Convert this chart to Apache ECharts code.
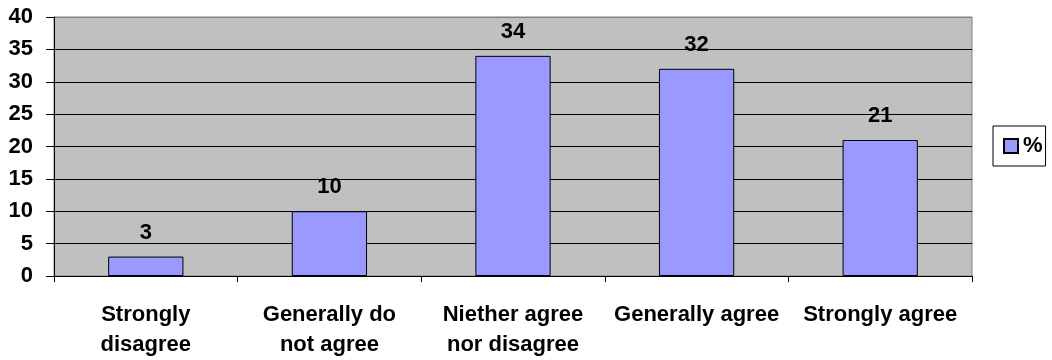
<!DOCTYPE html>
<html>
<head>
<meta charset="utf-8">
<script src="https://cdn.jsdelivr.net/npm/echarts@6/dist/echarts.min.js"></script>
<style>html,body{margin:0;padding:0;background:#fff}#c{width:1052px;height:360px}</style>
</head>
<body>
<div id="c"></div>
<script>
var categories = ['Strongly\ndisagree', 'Generally do\nnot agree', 'Niether agree\nnor disagree', 'Generally agree', 'Strongly agree'];
var seriesName = '%';
var values = [3, 10, 34, 32, 21];
var yMin = 0, yMax = 40, yInterval = 5;

var FONT = '"Liberation Sans", Arial, sans-serif';
var FS = 22;
var chart = echarts.init(document.getElementById('c'), null, {renderer: 'canvas'});
var splitColors = [];
for (var v = yMin; v <= yMax; v += yInterval) splitColors.push(v === yMax ? '#808080' : '#000000');
chart.setOption({
  animation: false,
  backgroundColor: '#ffffff',
  grid: {left: 54, right: 80, top: 17, bottom: 83, show: true, backgroundColor: '#c0c0c0', borderColor: '#808080', borderWidth: 1},
  legend: {
    left: 993, top: 126,
    padding: [8, 3, 8, 10],
    borderColor: '#000', borderWidth: 1, backgroundColor: '#fff',
    itemWidth: 14, itemHeight: 14, itemGap: 5,
    icon: 'rect',
    textStyle: {fontFamily: FONT, fontWeight: 'bold', fontSize: FS, color: '#000', lineHeight: 24},
    data: [seriesName]
  },
  xAxis: {
    type: 'category', data: categories,
    axisLine: {lineStyle: {color: '#000', width: 1}},
    axisTick: {show: true, alignWithLabel: false, length: 6, lineStyle: {color: '#000'}},
    axisLabel: {fontFamily: FONT, fontWeight: 'bold', fontSize: FS, color: '#000', margin: 24, lineHeight: 30, verticalAlign: 'top', interval: 0}
  },
  yAxis: {
    type: 'value', min: yMin, max: yMax, interval: yInterval,
    axisLine: {show: true, lineStyle: {color: '#000', width: 1}},
    axisTick: {show: true, length: 8, lineStyle: {color: '#000'}},
    splitLine: {show: true, lineStyle: {color: splitColors, width: 1}},
    axisLabel: {fontFamily: FONT, fontWeight: 'bold', fontSize: FS, color: '#000', margin: 21}
  },
  series: [{
    name: seriesName, type: 'bar', data: values,
    barWidth: '41%',
    itemStyle: {color: '#9999ff', borderColor: '#000', borderWidth: 1},
    label: {show: true, position: 'top', distance: 13, fontFamily: FONT, fontWeight: 'bold', fontSize: FS, color: '#000'}
  }]
});
</script>
</body>
</html>
